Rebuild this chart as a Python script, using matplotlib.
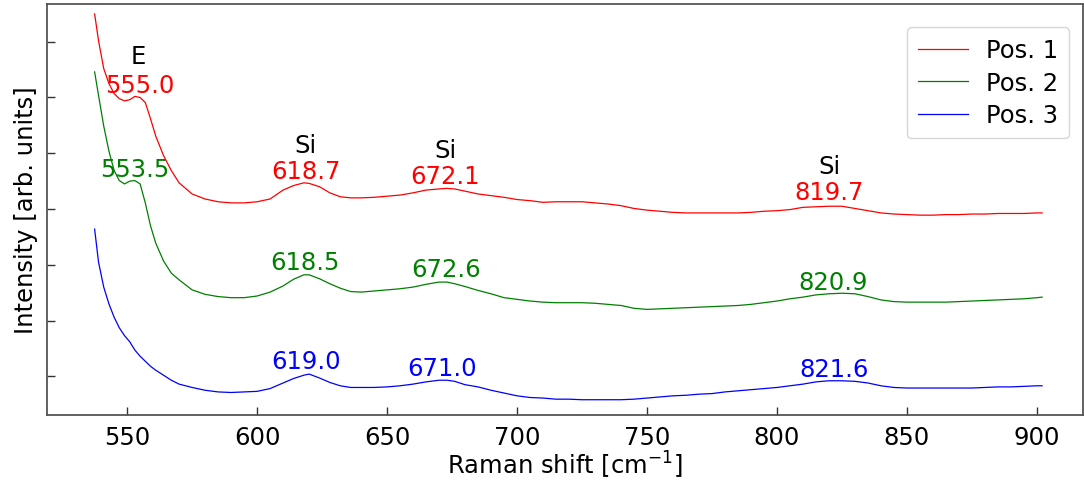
"""
Raman spectra at three positions with labelled peak positions.
"""

import matplotlib
matplotlib.use('Agg')
import matplotlib.pyplot as plt

# Raman shift [cm^-1]
shift = [537.5, 539, 541, 543, 545, 547, 549, 551, 553, 555, 557, 559, 561, 564, 567, 570,
         575, 580, 585, 590, 595, 600, 605, 610, 614, 618, 620, 624, 628, 632, 636, 640,
         645, 650, 655, 660, 665, 670, 673, 676, 680, 685, 690, 695, 700, 705, 710, 715,
         720, 725, 730, 735, 740, 745, 750, 755, 760, 765, 770, 775, 780, 785, 790, 795,
         800, 805, 810, 815, 820, 825, 830, 835, 840, 845, 850, 855, 860, 865, 870, 875,
         880, 885, 890, 895, 900, 902]

# intensities (arb. units, already offset for display)
pos1 = [7.50, 7.02, 6.52, 6.25, 6.07, 5.98, 5.94, 5.96, 6.02, 6.00, 5.91, 5.62, 5.31, 4.96, 4.69, 4.47,
        4.27, 4.18, 4.13, 4.11, 4.11, 4.13, 4.18, 4.34, 4.42, 4.47, 4.46, 4.40, 4.29, 4.22, 4.20, 4.20,
        4.21, 4.23, 4.25, 4.29, 4.34, 4.36, 4.37, 4.36, 4.32, 4.27, 4.24, 4.21, 4.17, 4.15, 4.12, 4.13,
        4.13, 4.13, 4.11, 4.09, 4.06, 4.01, 3.98, 3.96, 3.94, 3.93, 3.93, 3.93, 3.93, 3.93, 3.94, 3.96,
        3.97, 3.99, 4.03, 4.04, 4.05, 4.05, 4.01, 3.97, 3.93, 3.91, 3.90, 3.89, 3.89, 3.90, 3.90, 3.91,
        3.91, 3.92, 3.92, 3.92, 3.93, 3.93]
pos2 = [6.46, 6.04, 5.49, 5.04, 4.69, 4.51, 4.45, 4.50, 4.51, 4.45, 4.11, 3.70, 3.39, 3.07, 2.85, 2.73,
        2.55, 2.47, 2.43, 2.41, 2.41, 2.44, 2.51, 2.62, 2.74, 2.82, 2.82, 2.75, 2.66, 2.58, 2.52, 2.51,
        2.53, 2.55, 2.57, 2.60, 2.65, 2.69, 2.69, 2.66, 2.61, 2.54, 2.48, 2.41, 2.38, 2.35, 2.33, 2.32,
        2.32, 2.32, 2.31, 2.29, 2.27, 2.22, 2.20, 2.21, 2.22, 2.23, 2.24, 2.25, 2.26, 2.27, 2.29, 2.32,
        2.35, 2.39, 2.42, 2.46, 2.48, 2.49, 2.48, 2.43, 2.37, 2.34, 2.33, 2.33, 2.33, 2.33, 2.34, 2.35,
        2.36, 2.37, 2.38, 2.39, 2.41, 2.42]
pos3 = [3.64, 3.05, 2.60, 2.30, 2.06, 1.87, 1.73, 1.62, 1.47, 1.36, 1.27, 1.18, 1.11, 1.02, 0.93, 0.86,
        0.80, 0.75, 0.72, 0.71, 0.72, 0.73, 0.78, 0.88, 0.96, 1.02, 1.04, 0.97, 0.89, 0.83, 0.80, 0.80,
        0.80, 0.81, 0.83, 0.86, 0.90, 0.93, 0.93, 0.91, 0.85, 0.81, 0.75, 0.70, 0.65, 0.62, 0.61, 0.59,
        0.59, 0.58, 0.58, 0.58, 0.58, 0.59, 0.61, 0.63, 0.65, 0.66, 0.68, 0.69, 0.72, 0.74, 0.76, 0.78,
        0.80, 0.83, 0.86, 0.90, 0.92, 0.92, 0.91, 0.88, 0.83, 0.80, 0.79, 0.79, 0.79, 0.79, 0.79, 0.79,
        0.80, 0.81, 0.81, 0.82, 0.83, 0.83]

labels = ['Pos. 1', 'Pos. 2', 'Pos. 3']
colors = ['red', 'green', 'blue']

# band assignments (black)
assign_text = ['E', 'Si', 'Si', 'Si']
assign_x = [554.2, 618.5, 672.3, 820.0]
assign_y = [6.75, 5.15, 5.06, 4.78]

# fitted peak positions, one list per spectrum
peak_text = [['555.0', '618.7', '672.1', '819.7'],
             ['553.5', '618.5', '672.6', '820.9'],
             ['619.0', '671.0', '821.6']]
peak_x = [[555.0, 618.7, 672.3, 820.0],
          [553.1, 618.5, 672.7, 821.5],
          [618.9, 671.2, 821.9]]
peak_y = [[6.23, 4.69, 4.60, 4.31],
          [4.72, 3.05, 2.93, 2.69],
          [1.27, 1.15, 1.13]]

FS = 17.5

fig = plt.figure(figsize=(10.84, 4.81), dpi=100)
ax = fig.add_axes([0.0434, 0.135, 0.9556, 0.855])

for series, lab, col in zip([pos1, pos2, pos3], labels, colors):
    ax.plot(shift, series, color=col, linewidth=0.9, label=lab)

for t, x, y in zip(assign_text, assign_x, assign_y):
    ax.text(x, y, t, ha='center', va='center', fontsize=FS, color='black')

for i, col in enumerate(colors):
    for t, x, y in zip(peak_text[i], peak_x[i], peak_y[i]):
        ax.text(x, y, t, ha='center', va='center', fontsize=FS, color=col)

ax.set_xlim(519.2, 917.7)
ax.set_ylim(0.305, 7.68)
ax.set_xticks([550, 600, 650, 700, 750, 800, 850, 900])
ax.set_yticks([1, 2, 3, 4, 5, 6, 7])
ax.set_yticklabels([])
ax.tick_params(direction='in', length=6, width=1, color='#333333', labelsize=FS)
ax.tick_params(axis='x', pad=7)
for sp in ax.spines.values():
    sp.set_color('#555555')
    sp.set_linewidth(1.3)

ax.set_xlabel('Raman shift [cm$^{-1}$]', fontsize=FS, labelpad=0)
ax.set_ylabel('Intensity [arb. units]', fontsize=FS, labelpad=3)
ax.legend(loc='upper right', fontsize=FS, handlelength=2.05, handletextpad=0.75,
          borderpad=0.45, labelspacing=0.35, bbox_to_anchor=(0.9985, 0.972))

fig.savefig('out.png', dpi=100)
plt.close()
